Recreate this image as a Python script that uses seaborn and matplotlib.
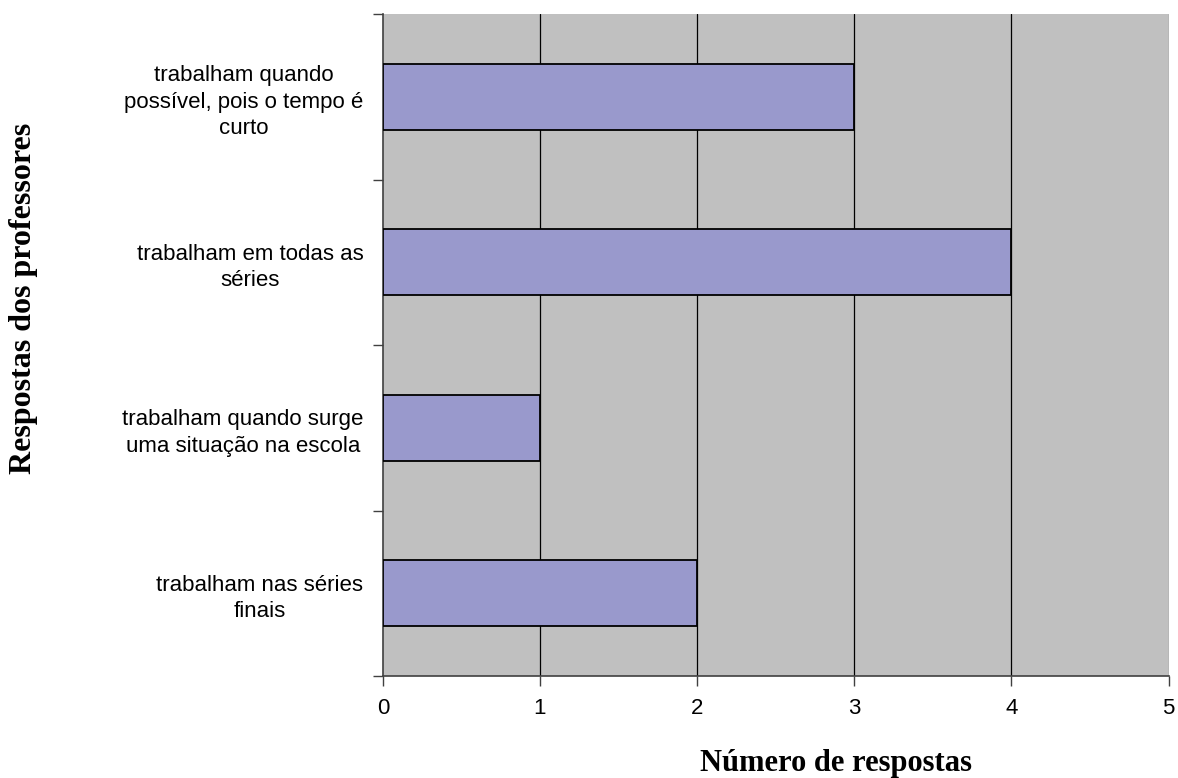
import matplotlib
matplotlib.use("Agg")
import matplotlib.pyplot as plt
import seaborn as sns
import pandas as pd

# data
categorias = [
    "trabalham quando\npossível, pois o tempo é\ncurto",
    "trabalham em todas as\nséries",
    "trabalham quando surge\numa situação na escola",
    "trabalham nas séries\nfinais",
]
respostas = [3, 4, 1, 2]
xticks = [0, 1, 2, 3, 4, 5]

df = pd.DataFrame({"categoria": categorias, "respostas": respostas})

sns.set_style("white")
plt.rcParams["font.family"] = ["Liberation Sans", "DejaVu Sans"]

fig = plt.figure(figsize=(11.78, 7.78), dpi=100)
ax = fig.add_axes([0.325, 0.131, 0.667, 0.851])
ax.set_facecolor("#C0C0C0")

sns.barplot(data=df, x="respostas", y="categoria", orient="h", color="#9999CC",
            saturation=1, width=0.4, edgecolor="black", linewidth=1.3, ax=ax, zorder=3)

ax.set_xlim(0, 5)
ax.set_ylim(3.5, -0.5)
ax.set_xticks(xticks)
ax.set_xticklabels([str(t) for t in xticks], fontsize=16, color="black")
for x in xticks[1:-1]:
    ax.axvline(x, color="black", lw=0.9, zorder=1)
ax.axvline(5, color="#808080", lw=0.9, zorder=1)

ax.tick_params(axis="x", bottom=True, direction="out", length=7, width=1, color="#404040", pad=9)
ax.tick_params(axis="y", which="major", left=True, length=0, pad=14)
ax.set_yticks([-0.5, 0.5, 1.5, 2.5, 3.5], minor=True)
ax.tick_params(axis="y", which="minor", left=True, direction="out", length=7, width=1, color="#404040")
for lbl in ax.get_yticklabels():
    lbl.set_fontsize(16)
    lbl.set_color("black")
    lbl.set_multialignment("center")
    lbl.set_linespacing(1.35)

for s in ["top", "right"]:
    ax.spines[s].set_visible(False)
for s in ["left", "bottom"]:
    ax.spines[s].set_color("#404040")
    ax.spines[s].set_linewidth(1.2)

ax.set_xlabel("")
ax.set_ylabel("")
fig.text(0.71, 0.019, "Número de respostas", ha="center", va="center", color="black",
         family=["Liberation Serif", "DejaVu Serif"], fontsize=22, fontweight="bold")
fig.text(0.02, 0.617, "Respostas dos professores", rotation=90, ha="center", va="center",
         color="black", family=["Liberation Serif", "DejaVu Serif"], fontsize=23,
         fontweight="bold")

fig.savefig("out.png", dpi=100)
